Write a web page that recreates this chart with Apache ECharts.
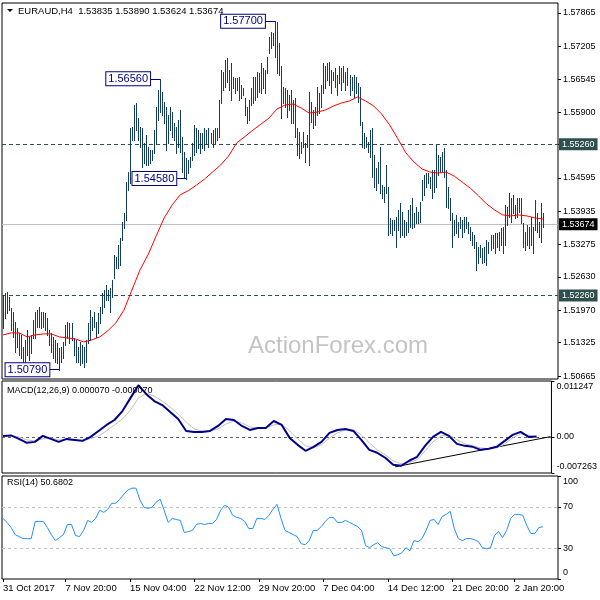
<!DOCTYPE html>
<html><head><meta charset="utf-8">
<script src="https://cdn.jsdelivr.net/npm/echarts@6/dist/echarts.min.js"></script>
<style>html,body{margin:0;padding:0;background:#fff}#c{width:600px;height:600px}</style>
</head><body><div id="c"></div>
<script>
// ---- data ----
const barHigh = [
1.5227,1.5231,1.5233,1.5223,1.5201,1.5193,1.5174,1.5162,1.5152,1.5148,
1.5124,1.5138,1.5158,1.5144,1.5148,1.5178,1.5193,1.5197,1.5203,1.5193,
1.5193,1.5192,1.5182,1.5158,1.5152,1.5144,1.5138,1.5132,1.5122,1.5124,
1.5134,1.5168,1.5174,1.5172,1.5172,1.5142,1.5138,1.5124,1.5134,1.5128,
1.5124,1.5138,1.5172,1.5197,1.5184,1.5193,1.5174,1.5192,1.5203,1.5231,
1.5237,1.5247,1.5237,1.5241,1.5257,1.5307,1.5303,1.5326,1.5340,1.5372,
1.5390,1.5451,1.5471,1.5558,1.5560,1.5604,1.5608,1.5578,1.5560,1.5558,
1.5529,1.5545,1.5521,1.5515,1.5515,1.5554,1.5600,1.5634,1.5656,1.5630,
1.5610,1.5600,1.5584,1.5600,1.5590,1.5568,1.5560,1.5574,1.5594,1.5541,
1.5511,1.5499,1.5495,1.5501,1.5529,1.5564,1.5558,1.5554,1.5549,1.5549,
1.5558,1.5554,1.5558,1.5549,1.5554,1.5558,1.5558,1.5614,1.5674,1.5670,
1.5693,1.5697,1.5674,1.5687,1.5660,1.5658,1.5658,1.5660,1.5644,1.5638,
1.5618,1.5600,1.5614,1.5638,1.5660,1.5660,1.5670,1.5668,1.5687,1.5677,
1.5674,1.5699,1.5739,1.5749,1.5747,1.5770,1.5769,1.5727,1.5681,1.5640,
1.5638,1.5634,1.5624,1.5634,1.5614,1.5618,1.5558,1.5551,1.5531,1.5551,
1.5529,1.5545,1.5630,1.5610,1.5594,1.5600,1.5640,1.5628,1.5644,1.5687,
1.5681,1.5687,1.5689,1.5674,1.5670,1.5677,1.5664,1.5681,1.5677,1.5681,
1.5670,1.5677,1.5664,1.5660,1.5664,1.5660,1.5648,1.5640,1.5570,1.5549,
1.5541,1.5531,1.5554,1.5558,1.5505,1.5479,1.5491,1.5521,1.5445,1.5441,
1.5485,1.5441,1.5380,1.5376,1.5376,1.5382,1.5396,1.5410,1.5392,1.5376,
1.5372,1.5396,1.5406,1.5420,1.5390,1.5402,1.5392,1.5412,1.5455,1.5465,
1.5469,1.5469,1.5461,1.5475,1.5475,1.5526,1.5505,1.5501,1.5511,1.5519,
1.5475,1.5441,1.5420,1.5390,1.5376,1.5386,1.5372,1.5382,1.5376,1.5382,
1.5382,1.5372,1.5362,1.5352,1.5346,1.5332,1.5322,1.5326,1.5320,1.5322,
1.5336,1.5332,1.5346,1.5346,1.5350,1.5350,1.5352,1.5360,1.5362,1.5406,
1.5402,1.5430,1.5420,1.5426,1.5406,1.5420,1.5420,1.5420,1.5370,1.5352,
1.5366,1.5362,1.5382,1.5362,1.5416,1.5390,1.5372,1.5410,1.5389];
const barLow = [
1.5162,1.5182,1.5192,1.5197,1.5158,1.5144,1.5114,1.5124,1.5108,1.5102,
1.5094,1.5094,1.5108,1.5098,1.5112,1.5142,1.5142,1.5164,1.5164,1.5162,
1.5164,1.5158,1.5148,1.5128,1.5114,1.5102,1.5094,1.5092,1.5079,1.5094,
1.5102,1.5128,1.5142,1.5132,1.5138,1.5108,1.5094,1.5094,1.5088,1.5092,
1.5084,1.5094,1.5132,1.5138,1.5158,1.5164,1.5144,1.5152,1.5172,1.5192,
1.5203,1.5217,1.5217,1.5193,1.5223,1.5261,1.5281,1.5281,1.5287,1.5336,
1.5360,1.5376,1.5435,1.5449,1.5535,1.5535,1.5554,1.5535,1.5521,1.5481,
1.5489,1.5485,1.5485,1.5489,1.5495,1.5509,1.5529,1.5574,1.5590,1.5584,
1.5568,1.5515,1.5529,1.5554,1.5541,1.5535,1.5509,1.5521,1.5511,1.5471,
1.5461,1.5458,1.5469,1.5481,1.5495,1.5505,1.5511,1.5519,1.5509,1.5519,
1.5515,1.5529,1.5521,1.5529,1.5521,1.5529,1.5535,1.5541,1.5608,1.5634,
1.5640,1.5650,1.5634,1.5614,1.5638,1.5628,1.5634,1.5614,1.5618,1.5624,
1.5584,1.5568,1.5574,1.5604,1.5608,1.5614,1.5620,1.5630,1.5628,1.5638,
1.5628,1.5668,1.5707,1.5717,1.5723,1.5699,1.5668,1.5664,1.5578,1.5608,
1.5600,1.5580,1.5594,1.5568,1.5568,1.5541,1.5505,1.5499,1.5509,1.5521,
1.5491,1.5521,1.5485,1.5570,1.5558,1.5564,1.5584,1.5588,1.5600,1.5628,
1.5638,1.5654,1.5644,1.5628,1.5654,1.5640,1.5624,1.5648,1.5634,1.5650,
1.5634,1.5644,1.5624,1.5634,1.5620,1.5628,1.5610,1.5564,1.5521,1.5519,
1.5521,1.5511,1.5501,1.5461,1.5441,1.5435,1.5449,1.5430,1.5420,1.5412,
1.5430,1.5346,1.5350,1.5346,1.5356,1.5322,1.5356,1.5342,1.5346,1.5342,
1.5346,1.5352,1.5362,1.5360,1.5362,1.5370,1.5370,1.5372,1.5416,1.5426,
1.5441,1.5449,1.5439,1.5420,1.5432,1.5441,1.5465,1.5471,1.5471,1.5461,
1.5402,1.5400,1.5376,1.5322,1.5346,1.5350,1.5342,1.5360,1.5342,1.5352,
1.5360,1.5350,1.5336,1.5326,1.5320,1.5277,1.5291,1.5303,1.5291,1.5293,
1.5287,1.5311,1.5316,1.5320,1.5311,1.5322,1.5316,1.5326,1.5311,1.5326,
1.5366,1.5382,1.5372,1.5390,1.5380,1.5382,1.5392,1.5370,1.5322,1.5316,
1.5326,1.5320,1.5326,1.5311,1.5356,1.5352,1.5342,1.5332,1.5362];
// moving average, one reading every 4 bars
const maValues = [
1.5148,1.5152,1.5152,1.5144,1.5148,1.5150,1.5150,1.5144,1.5142,1.5140,
1.5134,1.5138,1.5144,1.5156,1.5172,1.5197,1.5237,1.5277,1.5307,1.5344,
1.5380,1.5406,1.5426,1.5434,1.5445,1.5457,1.5471,1.5485,1.5503,1.5529,
1.5541,1.5554,1.5566,1.5578,1.5596,1.5604,1.5606,1.5598,1.5588,1.5590,
1.5594,1.5602,1.5608,1.5612,1.5620,1.5612,1.5602,1.5586,1.5564,1.5537,
1.5509,1.5491,1.5477,1.5471,1.5469,1.5471,1.5463,1.5451,1.5439,1.5424,
1.5408,1.5396,1.5386,1.5384,1.5386,1.5384,1.5380,1.5378];
// MACD main and signal, one reading every 4 bars
const macdValues = [
0.0002,0.0003,-0.0004,-0.0012,-0.0010,0.0002,-0.0004,-0.0010,-0.0004,-0.0006,
-0.0008,0.0000,0.0012,0.0024,0.0034,0.0052,0.0078,0.0104,0.0086,0.0072,
0.0064,0.0050,0.0036,0.0012,0.0010,0.0010,0.0012,0.0022,0.0036,0.0034,
0.0022,0.0014,0.0018,0.0018,0.0032,0.0024,-0.0002,-0.0016,-0.0028,-0.0020,
-0.0010,0.0008,0.0014,0.0016,0.0012,-0.0006,-0.0026,-0.0032,-0.0042,-0.0056,
-0.0058,-0.0048,-0.0040,-0.0018,0.0000,0.0010,0.0002,-0.0014,-0.0018,-0.0020,
-0.0026,-0.0024,-0.0020,-0.0008,0.0004,0.0010,0.0000,0.00007];
const signalValues = [
0.0000,0.0002,0.0000,-0.0006,-0.0008,-0.0004,-0.0002,-0.0006,-0.0006,-0.0006,
-0.0006,-0.0004,0.0002,0.0012,0.0024,0.0036,0.0054,0.0078,0.0088,0.0082,
0.0072,0.0060,0.0046,0.0030,0.0016,0.0012,0.0012,0.0016,0.0026,0.0032,
0.0028,0.0020,0.0018,0.0018,0.0024,0.0026,0.0012,-0.0004,-0.0018,-0.0022,
-0.0016,-0.0002,0.0008,0.0014,0.0014,0.0004,-0.0012,-0.0026,-0.0036,-0.0048,
-0.0054,-0.0052,-0.0046,-0.0028,-0.0010,0.0002,0.0004,-0.0006,-0.0014,-0.0018,
-0.0022,-0.0024,-0.0022,-0.0014,-0.0002,0.0006,0.0004,-0.00007];
// RSI(14), one reading every 2 bars
const rsiValues = [
58.8,54.9,50.0,43.1,41.2,39.2,39.2,39.2,55.9,55.9,
55.9,50.0,43.1,37.3,40.2,43.1,52.9,52.9,42.2,41.2,
47.1,56.9,54.9,58.8,66.7,64.7,67.6,73.5,73.5,77.5,
82.4,86.3,88.2,88.2,76.5,69.6,68.6,69.6,74.5,77.5,
66.7,54.9,58.8,57.8,56.9,45.1,46.1,47.1,52.9,53.9,
52.9,53.9,53.9,57.8,66.7,71.6,69.6,61.8,59.8,58.8,
55.9,49.0,49.0,58.8,58.8,57.8,61.8,67.6,72.5,58.8,
47.1,45.1,43.1,41.2,34.3,33.3,37.3,47.1,47.1,51.0,
55.9,59.8,59.8,54.9,54.9,56.9,54.9,52.9,51.0,47.1,
32.4,30.4,33.3,35.3,31.4,30.4,29.4,22.5,23.5,25.5,
30.4,27.5,37.3,36.3,39.2,47.1,56.9,57.8,52.9,60.8,
62.7,65.7,49.0,39.2,37.3,39.2,39.2,38.2,36.3,30.4,
29.4,30.4,42.2,46.1,40.2,47.1,58.8,62.7,62.7,61.8,
52.0,44.1,44.1,50.0,50.7];
const MA_STEP = 4, MACD_STEP = 4, RSI_STEP = 2;
const categoryCount = 276;
const categories = Array.from({length: categoryCount}, (_, i) => String(i));
const dateTickIndex = [0, 31, 63, 95, 127, 159, 191, 223, 254];
const dateTickLabels = ['31 Oct 2017','7 Nov 20:00','15 Nov 04:00','22 Nov 12:00','29 Nov 20:00','7 Dec 04:00','14 Dec 12:00','21 Dec 20:00','2 Jan 20:00'];
const priceTicks = [1.57865,1.57205,1.56545,1.55900,1.55260,1.54595,1.53935,1.53275,1.52630,1.51970,1.51325,1.50665];
const priceMin = 1.50606, priceMax = 1.58063;
const resistanceLevel = 1.55260, supportLevel = 1.52260, lastPrice = 1.53674;
const swingPoints = [{index:135, price:1.57700}, {index:78, price:1.56560}, {index:91, price:1.54580}, {index:28, price:1.50790}];
const macdTicks = [-0.007263, 0, 0.011247];
const macdTickLabels = ['-0.007263', '0.00', '0.011247'];
const macdTrend = [[197, -0.00602], [275, 0.00005]];
const rsiTicks = [0, 30, 70, 100];
const rsiLevels = [30, 70];
const titleText = 'EURAUD,H4  1.53835 1.53890 1.53624 1.53674';
const macdText = 'MACD(12,26,9) 0.000070 -0.000070';
const rsiText = 'RSI(14) 50.6802';

// ---- chart ----
const FONT = 'Liberation Sans, Arial, sans-serif';
const BAR_COLOR = '#143c5c';
const chart = echarts.init(document.getElementById('c'), null, {renderer: 'canvas'});
const tickSet = new Set(dateTickIndex);
const dateMap = {}; dateTickIndex.forEach((d, k) => dateMap[d] = dateTickLabels[k]);

function edgeLabel(ticks, labels) {
  const lo = Math.min(...ticks), hi = Math.max(...ticks);
  return function (v) {
    let k = 0, best = Infinity;
    ticks.forEach((t, j) => { const d = Math.abs(t - v); if (d < best) { best = d; k = j; } });
    const t = ticks[k];
    const s = labels ? labels[k] : String(t);
    if (t === hi) return '{t|' + s + '}';
    if (t === lo) return '{b|' + s + '}';
    return '{m|' + s + '}';
  };
}
const edgeRich = {
  t: {padding: [11, 0, 0, 0], fontSize: 9, fontFamily: FONT, color: '#000'},
  b: {padding: [0, 0, 12, 0], fontSize: 9, fontFamily: FONT, color: '#000'},
  m: {fontSize: 9, fontFamily: FONT, color: '#000'}
};

function xAxisFor(g, showLabels) {
  return {
    type: 'category', gridIndex: g, data: categories, boundaryGap: true,
    axisLine: {show: false},
    axisTick: {show: showLabels, alignWithLabel: true, length: 3, interval: (i) => tickSet.has(i), lineStyle: {color: '#000'}},
    axisLabel: {show: showLabels, interval: (i) => tickSet.has(i), formatter: (v, i) => dateMap[i] || '', align: 'left', margin: 4, fontSize: 9.5, fontFamily: FONT, color: '#000'},
    splitLine: {show: false}
  };
}

const gridBase = {show: true, borderColor: '#000', borderWidth: 1, backgroundColor: '#fff', containLabel: false};

const levelLine = (val, bg) => ({
  yAxis: val,
  lineStyle: {color: '#2f4f4f', type: [4, 3], width: 1},
  label: {show: true, position: 'end', distance: 1, formatter: val.toFixed(5), backgroundColor: bg, color: '#fff', padding: [2, 3, 1, 3], fontSize: 9, fontFamily: FONT}
});

const option = {
  animation: false,
  textStyle: {fontFamily: FONT},
  grid: [
    Object.assign({left: 2, top: 3, width: 556, height: 376}, gridBase),
    Object.assign({left: 2, top: 381, width: 556, height: 92}, gridBase),
    Object.assign({left: 2, top: 476, width: 556, height: 103}, gridBase)
  ],
  xAxis: [xAxisFor(0, false), xAxisFor(1, false), xAxisFor(2, true)],
  yAxis: [
    {type: 'value', gridIndex: 0, position: 'right', min: priceMin, max: priceMax,
     axisLine: {show: false}, splitLine: {show: false},
     axisTick: {show: true, customValues: priceTicks, length: 3, lineStyle: {color: '#000'}},
     axisLabel: {customValues: priceTicks, formatter: (v) => v.toFixed(5), margin: 5, fontSize: 9, fontFamily: FONT, color: '#000'}},
    {type: 'value', gridIndex: 1, position: 'right', min: macdTicks[0], max: macdTicks[2],
     axisLine: {show: false}, splitLine: {show: false},
     axisTick: {show: true, customValues: macdTicks, length: 3, lineStyle: {color: '#000'}},
     axisLabel: {customValues: macdTicks, formatter: edgeLabel(macdTicks, macdTickLabels), rich: edgeRich, margin: 5}},
    {type: 'value', gridIndex: 2, position: 'right', min: 0, max: 100,
     axisLine: {show: false}, splitLine: {show: false},
     axisTick: {show: true, customValues: rsiTicks, length: 3, lineStyle: {color: '#000'}},
     axisLabel: {customValues: rsiTicks, formatter: edgeLabel(rsiTicks, null), rich: edgeRich, margin: 5}}
  ],
  series: [
    {
      name: 'EURAUD', type: 'custom', xAxisIndex: 0, yAxisIndex: 0, z: 3, silent: true,
      data: barHigh.map((h, i) => [i, h, barLow[i]]),
      encode: {x: 0, y: [1, 2]},
      renderItem: function (params, api) {
        const p1 = api.coord([api.value(0), api.value(1)]);
        const p2 = api.coord([api.value(0), api.value(2)]);
        const px = Math.round(p1[0]) + 0.5;
        return {type: 'line', shape: {x1: px, y1: Math.round(p1[1]), x2: px, y2: Math.round(p2[1]) + 1},
                style: {stroke: BAR_COLOR, lineWidth: 1}};
      }
    },
    {
      name: 'MA', type: 'line', xAxisIndex: 0, yAxisIndex: 0, z: 4, silent: true,
      data: maValues.map((v, k) => [k * MA_STEP, v]),
      symbol: 'none', lineStyle: {color: '#ff0000', width: 1},
      markLine: {
        silent: true, symbol: ['none', 'none'], animation: false, z: 2, precision: 6,
        data: [
          levelLine(resistanceLevel, '#2f4f4f'),
          levelLine(supportLevel, '#2f4f4f'),
          {yAxis: lastPrice, lineStyle: {color: '#c0c0c0', type: 'solid', width: 1},
           label: {show: true, position: 'end', distance: 1, formatter: lastPrice.toFixed(5), backgroundColor: '#000', color: '#fff', padding: [2, 3, 1, 3], fontSize: 9, fontFamily: FONT}},
          ...swingPoints.map(s => [
            {coord: [s.index - 5, s.price],
             lineStyle: {color: '#000080', type: 'solid', width: 1},
             label: {show: true, position: 'start', distance: 0, formatter: s.price.toFixed(5), color: '#000080',
                     backgroundColor: '#fff', borderColor: '#000080', borderWidth: 1, padding: [1, 2, 0, 2],
                     fontSize: 11, lineHeight: 12, fontFamily: FONT}},
            {coord: [s.index, s.price]}
          ])
        ]
      }
    },
    {
      name: 'Signal', type: 'line', xAxisIndex: 1, yAxisIndex: 1, z: 3, silent: true,
      data: signalValues.map((v, k) => [k * MACD_STEP, v]),
      symbol: 'none', lineStyle: {color: '#c0c0c0', width: 1}
    },
    {
      name: 'MACD', type: 'line', xAxisIndex: 1, yAxisIndex: 1, z: 4, silent: true,
      data: macdValues.map((v, k) => [k * MACD_STEP, v]),
      symbol: 'none', lineStyle: {color: '#00008b', width: 2},
      markLine: {
        silent: true, symbol: ['none', 'none'], animation: false, z: 2, precision: 8,
        data: [
          {yAxis: 0, lineStyle: {color: '#606060', type: [3, 3], width: 1}, label: {show: false}},
          [{coord: macdTrend[0], lineStyle: {color: '#000', type: 'solid', width: 1}, label: {show: false}}, {coord: macdTrend[1]}]
        ]
      }
    },
    {
      name: 'RSI', type: 'line', xAxisIndex: 2, yAxisIndex: 2, z: 4, silent: true,
      data: rsiValues.map((v, k) => [k * RSI_STEP, v]),
      symbol: 'none', lineStyle: {color: '#1e90ff', width: 1},
      markLine: {
        silent: true, symbol: ['none', 'none'], animation: false, z: 2,
        data: rsiLevels.map(l => ({yAxis: l, lineStyle: {color: '#c0c0c0', type: [3, 3], width: 1}, label: {show: false}}))
      }
    }
  ],
  graphic: [
    {type: 'text', left: 248, top: 334, z: 0, silent: true,
     style: {text: 'ActionForex.com', fontSize: 24, fontFamily: FONT, fill: '#c4c4c4'}},
    {type: 'polygon', z: 10, silent: true, shape: {points: [[7, 9], [13, 9], [10, 12]]}, style: {fill: '#000'}},
    {type: 'text', x: 18, y: 11, z: 10, silent: true,
     style: {text: titleText, fontSize: 9.5, fontFamily: FONT, fill: '#000', verticalAlign: 'middle'}},
    {type: 'text', x: 7, y: 391, z: 10, silent: true,
     style: {text: macdText, fontSize: 9, fontFamily: FONT, fill: '#000', verticalAlign: 'middle'}},
    {type: 'text', x: 7, y: 483, z: 10, silent: true,
     style: {text: rsiText, fontSize: 9, fontFamily: FONT, fill: '#000', verticalAlign: 'middle'}}
  ]
};
chart.setOption(option);
</script>
</body></html>
